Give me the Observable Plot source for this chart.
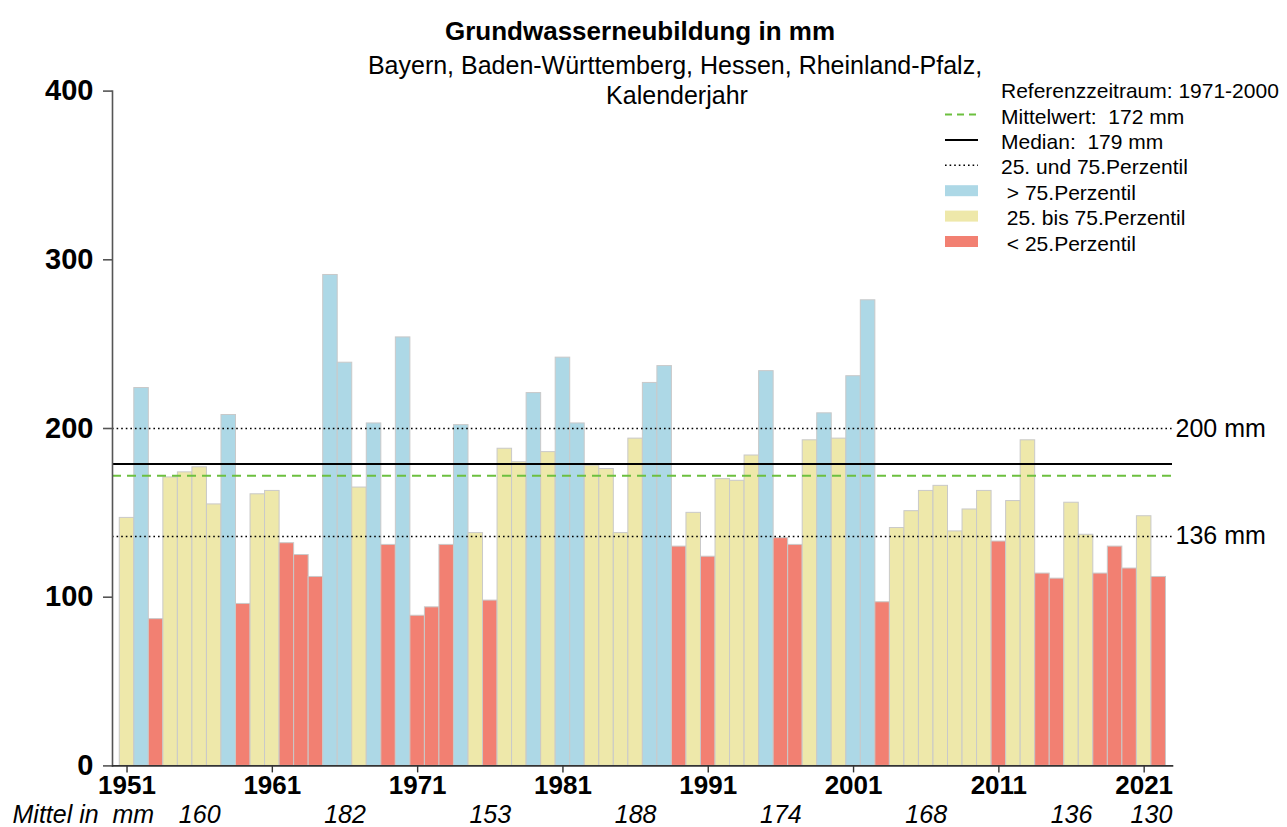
<!DOCTYPE html>
<html>
<head>
<meta charset="utf-8">
<script src="https://cdn.jsdelivr.net/npm/d3@7"></script>
<script src="https://cdn.jsdelivr.net/npm/@observablehq/plot@0.6"></script>
<style>
  body { margin: 0; background: #fff; font-family: "Liberation Sans", Arial, sans-serif; }
  #wrap { position: relative; width: 1287px; height: 827px; }
  .t { position: absolute; white-space: pre; line-height: 1; color: #000; }
  .c { transform: translateX(-50%); }
</style>
</head>
<body>
<div id="wrap"></div>
<script>
// ---- data ----
const years = d3.range(1951, 2023);
const values = [
  147, 224, 87, 171, 174, 177, 155, 208, 96, 161,
  163, 132, 125, 112, 291, 239, 165, 203, 131, 254,
  89, 94, 131, 202, 138, 98, 188, 180, 221, 186,
  242, 203, 178, 176, 138, 194, 227, 237, 130, 150,
  124, 170, 169, 184, 234, 135, 131, 193, 209, 194,
  231, 276, 97, 141, 151, 163, 166, 139, 152, 163,
  133, 157, 193, 114, 111, 156, 137, 114, 130, 117,
  148, 112
];
const yTicks = [0, 100, 200, 300, 400];
const xTicks = [1951, 1961, 1971, 1981, 1991, 2001, 2011, 2021];
const decadePos = [1956, 1966, 1976, 1986, 1996, 2006, 2016, 2021.5];
const decadeMeans = [160, 182, 153, 188, 174, 168, 136, 130];
const refMean = 172, refMedian = 179, p25 = 136, p75 = 200;
const title = "Grundwasserneubildung in mm";
const subtitle1 = "Bayern, Baden-Württemberg, Hessen, Rheinland-Pfalz,";
const subtitle2 = "Kalenderjahr";
const legendHeader = "Referenzzeitraum: 1971-2000";
const legendLines = [
  {label: "Mittelwert:  172 mm", kind: "mean"},
  {label: "Median:  179 mm", kind: "median"},
  {label: "25. und 75.Perzentil", kind: "pct"},
  {label: " > 75.Perzentil", kind: "high"},
  {label: " 25. bis 75.Perzentil", kind: "mid"},
  {label: " < 25.Perzentil", kind: "low"}
];
const colors = {high: "#add8e6", mid: "#eee8aa", low: "#f28072"};
const meanColor = "#6cc03f";

const data = years.map((year, i) => ({
  year, value: values[i],
  cls: values[i] > p75 ? "high" : values[i] < p25 ? "low" : "mid"
}));

const font = "'Liberation Sans', Arial, sans-serif";

const chart = Plot.plot({
  width: 1287,
  height: 827,
  marginTop: 90.6,
  marginBottom: 61.6,
  marginLeft: 112,
  marginRight: 115,
  style: {fontFamily: font, color: "#000", background: "#fff"},
  x: {domain: [1950, 2022.95], axis: null},
  y: {domain: [0, 400], axis: null},
  marks: [
    Plot.rectY(data, {
      x1: d => d.year - 0.5, x2: d => d.year + 0.5, y1: 0, y2: "value",
      fill: d => colors[d.cls], stroke: "#c9c9c9", strokeWidth: 1
    }),
    Plot.ruleY([p25, p75], {stroke: "#000", strokeWidth: 1.5, strokeDasharray: "1.6,3"}),
    Plot.ruleY([refMedian], {stroke: "#000", strokeWidth: 2}),
    Plot.ruleY([refMean], {stroke: meanColor, strokeWidth: 2, strokeDasharray: "9,6"}),
    Plot.text([p75, p25], {
      y: d => d, text: d => `${d} mm`, frameAnchor: "right", textAnchor: "start",
      dx: 3, fontSize: 25, fill: "#000"
    }),
    Plot.frame({anchor: "left", stroke: "#555", strokeWidth: 1.6}),
    Plot.frame({anchor: "bottom", stroke: "#333", strokeWidth: 1.6}),
    Plot.axisY({
      ticks: yTicks, tickSize: 9, tickPadding: 10, tickFormat: d => String(d),
      label: null, fontSize: 29, fontWeight: "bold", stroke: "#555", strokeWidth: 1.6
    }),
    Plot.axisX({
      ticks: xTicks, tickSize: 7, tickPadding: 3, tickFormat: d => String(d),
      label: null, fontSize: 26, fontWeight: "bold", stroke: "#333", strokeWidth: 1.4
    }),
    Plot.text(decadePos, {
      x: d => d, text: (d, i) => String(decadeMeans[i]), frameAnchor: "bottom",
      lineAnchor: "bottom", dy: 57, fontSize: 25, fontStyle: "italic", fill: "#000"
    }),
    Plot.text(["Mittel in\u00a0 mm"], {
      frameAnchor: "bottom-left", textAnchor: "start", lineAnchor: "bottom",
      dx: -100, dy: 57, fontSize: 25, fontStyle: "italic", fill: "#000"
    })
  ]
});

const wrap = document.getElementById("wrap");
wrap.appendChild(chart);

function addText(txt, left, top, size, extra = "", cls = "t") {
  const el = document.createElement("div");
  el.className = cls;
  el.textContent = txt;
  el.style.left = left + "px";
  el.style.top = top + "px";
  el.style.fontSize = size + "px";
  if (extra) el.style.cssText += extra;
  wrap.appendChild(el);
  return el;
}
addText(title, 640, 18, 26, "font-weight:bold;", "t c");
addText(subtitle1, 675, 53, 25, "", "t c");
addText(subtitle2, 677, 83, 25, "", "t c");

// legend
const lsz = 21, lOff = 0.8465 * lsz;
addText(legendHeader, 1001, 97.3 - lOff, lsz);
const NS = "http://www.w3.org/2000/svg";
const lsvg = document.createElementNS(NS, "svg");
lsvg.setAttribute("width", 1287); lsvg.setAttribute("height", 827);
lsvg.style.cssText = "position:absolute;left:0;top:0;pointer-events:none;";
wrap.appendChild(lsvg);
legendLines.forEach((item, i) => {
  const baseline = 123.3 + i * 25.4;
  addText(item.label, 1001, baseline - lOff, lsz);
  const cy = baseline - 8.8;
  if (item.kind === "mean" || item.kind === "median" || item.kind === "pct") {
    const l = document.createElementNS(NS, "line");
    l.setAttribute("x1", 945); l.setAttribute("x2", 978);
    l.setAttribute("y1", cy); l.setAttribute("y2", cy);
    if (item.kind === "mean") { l.setAttribute("stroke", meanColor); l.setAttribute("stroke-width", 2); l.setAttribute("stroke-dasharray", "7,5"); }
    if (item.kind === "median") { l.setAttribute("stroke", "#000"); l.setAttribute("stroke-width", 2); }
    if (item.kind === "pct") { l.setAttribute("stroke", "#000"); l.setAttribute("stroke-width", 1.5); l.setAttribute("stroke-dasharray", "1.6,3"); }
    lsvg.appendChild(l);
  } else {
    const r = document.createElementNS(NS, "rect");
    r.setAttribute("x", 945); r.setAttribute("width", 33);
    r.setAttribute("y", cy - 5.5); r.setAttribute("height", 11);
    r.setAttribute("fill", colors[item.kind]);
    lsvg.appendChild(r);
  }
});
</script>
</body>
</html>
